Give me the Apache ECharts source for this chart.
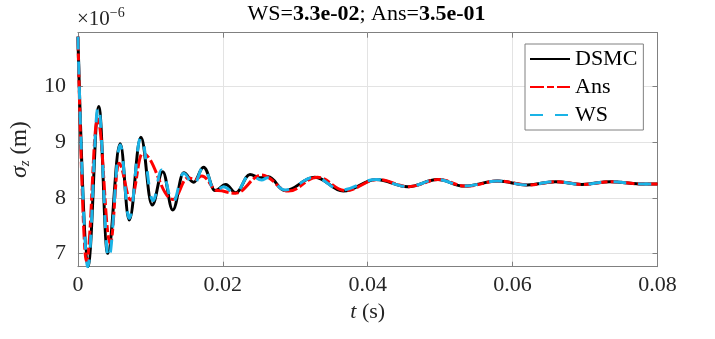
<!DOCTYPE html>
<html>
<head>
<meta charset="utf-8">
<script src="https://cdn.jsdelivr.net/npm/echarts@6/dist/echarts.min.js"></script>
<style>
  html, body { margin: 0; padding: 0; background: #ffffff; }
  #chart { width: 715px; height: 339px; }
</style>
</head>
<body>
<div id="chart"></div>
<script>
// Bunch length sigma_z versus time; values in units of 1e-6 m.
const timeDSMC = [0, 0.00137, 0.00289, 0.00410, 0.00584, 0.00708, 0.00869, 0.01024, 0.01171, 0.01309,
  0.01460, 0.01597, 0.01735, 0.01894, 0.02041, 0.02179, 0.02375, 0.02509, 0.02628, 0.02856,
  0.03269, 0.03663, 0.04117, 0.04553, 0.04965, 0.05330, 0.05790, 0.06202, 0.06591, 0.06958,
  0.07347, 0.07759, 0.08];
const sigmaDSMC = [10.90, 6.76, 9.64, 7.00, 8.97, 7.60, 9.09, 7.87, 8.47, 7.78,
  8.45, 8.28, 8.55, 8.13, 8.24, 8.09, 8.42, 8.36, 8.38, 8.13,
  8.37, 8.12, 8.33, 8.20, 8.33, 8.21, 8.30, 8.23, 8.29, 8.24,
  8.29, 8.25, 8.25];

const timeAns = [0, 0.00117, 0.00272, 0.00447, 0.00564, 0.00731, 0.00891, 0.01313, 0.01519, 0.01620,
  0.01711, 0.01931, 0.02169, 0.02536, 0.02907, 0.03306, 0.03691, 0.04144, 0.04570, 0.04983,
  0.05354, 0.05808, 0.06220, 0.06605, 0.06976, 0.07361, 0.07773, 0.08];
const sigmaAns = [10.90, 6.85, 9.42, 7.18, 8.62, 7.96, 8.80, 7.97, 8.36, 8.33,
  8.39, 8.13, 8.08, 8.41, 8.12, 8.37, 8.13, 8.33, 8.20, 8.33,
  8.21, 8.30, 8.23, 8.29, 8.24, 8.29, 8.25, 8.25];

const timeWS = [0, 0.00135, 0.00282, 0.00423, 0.00584, 0.00708, 0.00869, 0.01038, 0.01152, 0.01313,
  0.01460, 0.01597, 0.01735, 0.01894, 0.02010, 0.02169, 0.02375, 0.02536, 0.02620, 0.02856,
  0.03269, 0.03636, 0.04117, 0.04553, 0.04965, 0.05330, 0.05790, 0.06202, 0.06591, 0.06958,
  0.07347, 0.07759, 0.08];
const sigmaWS = [10.90, 6.76, 9.64, 6.91, 8.95, 7.63, 9.09, 7.95, 8.50, 7.92,
  8.44, 8.23, 8.56, 8.11, 8.20, 8.08, 8.41, 8.32, 8.36, 8.14,
  8.37, 8.14, 8.33, 8.20, 8.33, 8.21, 8.30, 8.23, 8.29, 8.24,
  8.29, 8.25, 8.25];

const seriesNames = ['DSMC', 'Ans', 'WS'];
const yTicks = [7, 8, 9, 10];
const titleWS = '3.3e-02';
const titleAns = '3.5e-01';

const serif = '"Liberation Serif", "DejaVu Serif", serif';
const axisGray = '#808080';
const gridGray = '#e3e3e3';
const textDark = '#262626';

function pairs(xs, ys) {
  return xs.map((x, i) => [x, ys[i]]);
}

const chart = echarts.init(document.getElementById('chart'), null, { renderer: 'canvas' });

const xCommon = {
  type: 'value', min: 0, max: 0.08, interval: 0.02,
  axisLine: { show: true, onZero: false, lineStyle: { color: axisGray, width: 1 } },
  axisTick: { show: true, inside: true, length: 5, lineStyle: { color: axisGray } }
};
const yCommon = {
  type: 'value', min: 6.76, max: 10.97,
  axisLine: { show: true, onZero: false, lineStyle: { color: axisGray, width: 1 } },
  axisTick: { show: true, inside: true, length: 5, customValues: yTicks, lineStyle: { color: axisGray } }
};

const lineSeries = (name, xs, ys, color, dash) => ({
  name: name, type: 'line', xAxisIndex: 0, yAxisIndex: 0,
  data: pairs(xs, ys),
  showSymbol: false, symbol: 'none',
  smooth: 0.4, smoothMonotone: 'x',
  lineStyle: { color: color, width: 3, type: dash, cap: 'butt' },
  itemStyle: { color: color },
  emphasis: { disabled: true },
  animation: false
});

chart.setOption({
  backgroundColor: '#ffffff',
  animation: false,
  grid: { left: 75.5, right: 57.5, top: 32.7, bottom: 72.3, containLabel: false },
  xAxis: [
    Object.assign({}, xCommon, {
      position: 'bottom',
      axisLabel: {
        show: true, margin: 8, color: textDark, fontFamily: serif, fontSize: 22,
        formatter: v => (v === 0 ? '0' : v.toFixed(2))
      },
      splitLine: { show: true, lineStyle: { color: gridGray, width: 1 } },
      name: '{i|t}{n| (s)}', nameLocation: 'middle', nameGap: 34,
      nameTextStyle: {
        color: textDark, fontFamily: serif, fontSize: 22,
        rich: {
          i: { fontFamily: serif, fontSize: 22, fontStyle: 'italic', color: textDark },
          n: { fontFamily: serif, fontSize: 22, color: textDark }
        }
      }
    }),
    Object.assign({}, xCommon, {
      position: 'top',
      axisLabel: { show: false },
      splitLine: { show: false }
    })
  ],
  yAxis: [
    Object.assign({}, yCommon, {
      position: 'left',
      axisLabel: {
        show: true, margin: 12, color: textDark, fontFamily: serif, fontSize: 22,
        customValues: yTicks, formatter: v => String(Math.round(v))
      },
      splitLine: { show: true, lineStyle: { color: gridGray, width: 1 } },
      name: '{i|σ}{z|z}{n| (m)}', nameLocation: 'middle', nameGap: 36,
      nameTextStyle: {
        color: textDark, fontFamily: serif, fontSize: 23,
        rich: {
          i: { fontFamily: serif, fontSize: 24, fontStyle: 'italic', color: textDark, lineHeight: 26, verticalAlign: 'middle' },
          z: { fontFamily: serif, fontSize: 15, fontStyle: 'italic', color: textDark, lineHeight: 26, verticalAlign: 'bottom', padding: [8, 0, 0, 0] },
          n: { fontFamily: serif, fontSize: 23, color: textDark, lineHeight: 26, verticalAlign: 'middle' }
        }
      }
    }),
    Object.assign({}, yCommon, {
      position: 'right',
      axisLabel: { show: false },
      splitLine: { show: false }
    })
  ],
  legend: {
    orient: 'vertical', left: 525, top: 44,
    padding: [4, 6, 4, 4], itemGap: 6,
    itemWidth: 40, itemHeight: 14,
    backgroundColor: '#ffffff', borderColor: axisGray, borderWidth: 1, borderRadius: 0,
    itemStyle: { opacity: 0 },
    textStyle: { fontFamily: serif, fontSize: 22, color: '#000000', lineHeight: 22 },
    data: seriesNames
  },
  graphic: [
    {
      type: 'text', x: 366.5, y: 3, z: 100,
      style: {
        text: '{n|WS=}{b|' + titleWS + '}{n|; Ans=}{b|' + titleAns + '}',
        textAlign: 'center', textVerticalAlign: 'top',
        rich: {
          n: { fontFamily: serif, fontSize: 22, fill: '#000000' },
          b: { fontFamily: serif, fontSize: 22, fontWeight: 'bold', fill: '#000000' }
        }
      }
    },
    {
      type: 'text', x: 77, y: 6, z: 100,
      style: {
        text: '{m|×10}{e|−6}',
        textAlign: 'left', textVerticalAlign: 'top',
        rich: {
          m: { fontFamily: serif, fontSize: 21, fill: textDark, verticalAlign: 'bottom', lineHeight: 24 },
          e: { fontFamily: serif, fontSize: 14, fill: textDark, verticalAlign: 'top', lineHeight: 24 }
        }
      }
    }
  ],
  series: [
    lineSeries(seriesNames[0], timeDSMC, sigmaDSMC, '#000000', 'solid'),
    lineSeries(seriesNames[1], timeAns, sigmaAns, '#ff0000', [14, 3, 7, 3]),
    lineSeries(seriesNames[2], timeWS, sigmaWS, '#1ab3e6', [13, 12])
  ]
});
</script>
</body>
</html>
